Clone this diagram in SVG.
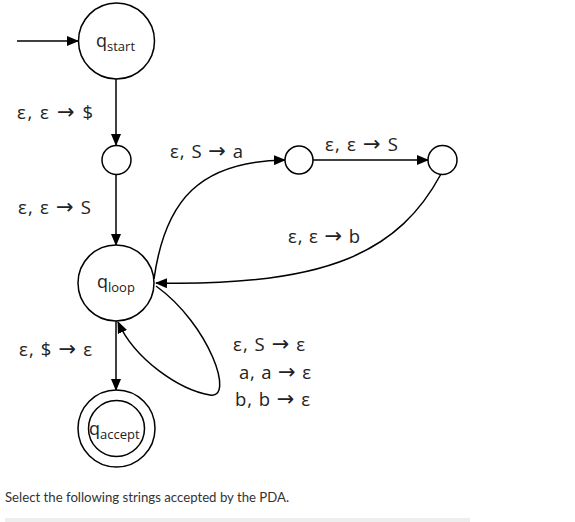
<svg xmlns="http://www.w3.org/2000/svg" width="575" height="522" viewBox="0 0 575 522">
<defs>
<marker id="ah" markerWidth="12" markerHeight="10" refX="11" refY="5" orient="auto" markerUnits="userSpaceOnUse">
<path d="M0,0 L12,5 L0,10 z" fill="#000"/>
</marker>
<style>
.st{fill:#fff;stroke:#000;stroke-width:1.5}
.ed{fill:none;stroke:#000;stroke-width:1.5;marker-end:url(#ah)}
.lb{font-family:"Open Sans","DejaVu Sans",sans-serif;font-size:18.5px;fill:#222}
.ar{font-family:"DejaVu Sans",sans-serif;font-size:21px}
.nm{font-family:"Open Sans","DejaVu Sans",sans-serif;font-size:18px;fill:#222}
.sub{font-size:13px}
</style>
</defs>
<rect width="575" height="522" fill="#fff"/>
<g id="connectors">
<line class="ed" x1="17" y1="41" x2="78" y2="41"/>
<line class="ed" x1="116" y1="79" x2="116" y2="145"/>
<line class="ed" x1="116" y1="174" x2="116" y2="245"/>
<line class="ed" x1="116" y1="321" x2="116" y2="390"/>
<line class="ed" x1="313" y1="160" x2="428" y2="160"/>
<path class="ed" d="M154,279 C165,200 200,161 285,160"/>
<path class="ed" d="M441,174 C400,250 330,287 156,283"/>
<path class="ed" d="M156,286 C210,325 235,400 210,395 C180,390 135,360 118,322"/>
</g>
<g id="q_start">
<circle class="st" cx="116.5" cy="41" r="38"/>
<text class="nm" x="96" y="47">q<tspan class="sub" dy="4">start</tspan></text>
</g>
<g id="s1"><circle class="st" cx="116.5" cy="160" r="14.5"/></g>
<g id="s2"><circle class="st" cx="299" cy="160" r="14"/></g>
<g id="s3"><circle class="st" cx="442.5" cy="160" r="14.5"/></g>
<g id="q_loop">
<circle class="st" cx="116" cy="283" r="38"/>
<text class="nm" x="97" y="288">q<tspan class="sub" dy="4">loop</tspan></text>
</g>
<g id="q_accept">
<circle class="st" cx="116.5" cy="428.5" r="38.5"/>
<circle class="st" cx="116.5" cy="428.5" r="28"/>
<text class="nm" x="89" y="435">q<tspan class="sub" dy="4">accept</tspan></text>
</g>
<g id="labels">
<text class="lb" x="17" y="119" textLength="76">ε, ε <tspan class="ar">→</tspan> $</text>
<text class="lb" x="18" y="214" textLength="73">ε, ε <tspan class="ar">→</tspan> S</text>
<text class="lb" x="19" y="356" textLength="73">ε, $ <tspan class="ar">→</tspan> ε</text>
<text class="lb" x="170" y="158" textLength="73">ε, S <tspan class="ar">→</tspan> a</text>
<text class="lb" x="325" y="151" textLength="73">ε, ε <tspan class="ar">→</tspan> S</text>
<text class="lb" x="288" y="243" textLength="72">ε, ε <tspan class="ar">→</tspan> b</text>
<text class="lb" x="233" y="351" textLength="72">ε, S <tspan class="ar">→</tspan> ε</text>
<text class="lb" x="239" y="379" textLength="72">a, a <tspan class="ar">→</tspan> ε</text>
<text class="lb" x="235" y="406" textLength="75">b, b <tspan class="ar">→</tspan> ε</text>
</g>
<text x="5" y="502" font-family="Lato,'Open Sans',sans-serif" font-size="13.2" fill="#333">Select the following strings accepted by the PDA.</text>
<rect x="5" y="518" width="465" height="4" fill="#eeeeee"/>
</svg>
